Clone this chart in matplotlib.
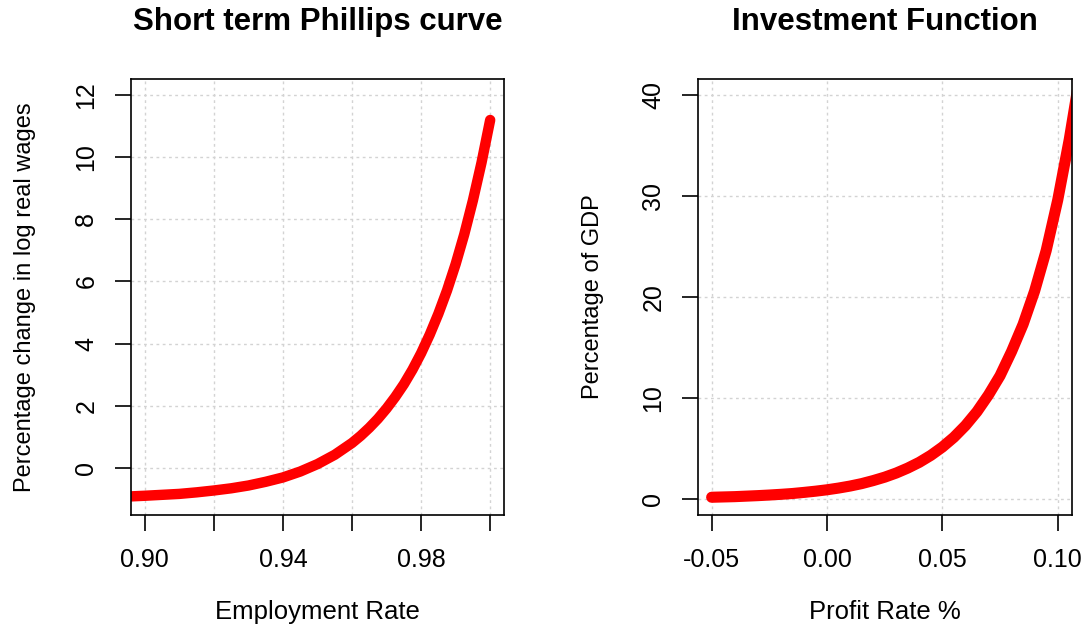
import matplotlib
matplotlib.use('Agg')
import matplotlib.pyplot as plt

plt.rcParams['font.family'] = ['Liberation Sans', 'DejaVu Sans']

# Short term Phillips curve
emp_rate = [0.896, 0.90, 0.905, 0.91, 0.915, 0.92, 0.925, 0.93, 0.935, 0.94,
            0.945, 0.95, 0.955, 0.96, 0.9625, 0.965, 0.9675, 0.97, 0.9725,
            0.975, 0.9775, 0.98, 0.9825, 0.985, 0.9875, 0.99, 0.9925, 0.995,
            0.9975, 1.00]
wage_chg = [-0.92, -0.90, -0.87, -0.84, -0.79, -0.73, -0.66, -0.57, -0.45, -0.31,
            -0.12, 0.12, 0.42, 0.80, 1.03, 1.29, 1.58, 1.91, 2.28,
            2.69, 3.16, 3.69, 4.29, 4.96, 5.71, 6.56, 7.52, 8.61,
            9.83, 11.2]

# Investment function
profit_rate = [-0.05, -0.045, -0.04, -0.035, -0.03, -0.025, -0.02, -0.015, -0.01,
               -0.005, 0.00, 0.005, 0.01, 0.015, 0.02, 0.025, 0.03, 0.035, 0.04,
               0.045, 0.05, 0.055, 0.06, 0.065, 0.07, 0.075, 0.08, 0.085, 0.09,
               0.095, 0.10, 0.105, 0.11]
invest_gdp = [0.16, 0.19, 0.22, 0.27, 0.32, 0.38, 0.45, 0.53, 0.64,
              0.76, 0.90, 1.07, 1.27, 1.51, 1.81, 2.15, 2.56, 3.05, 3.62,
              4.31, 5.13, 6.10, 7.26, 8.64, 10.3, 12.2, 14.6, 17.3, 20.6,
              24.6, 29.6, 35.6, 42.5]

emp_ticks = [0.90, 0.92, 0.94, 0.96, 0.98, 1.00]
emp_labels = ['0.90', '', '0.94', '', '0.98', '']
wage_ticks = [0, 2, 4, 6, 8, 10, 12]
profit_ticks = [-0.05, 0.00, 0.05, 0.10]
profit_labels = ['-0.05', '0.00', '0.05', '0.10']
invest_ticks = [0, 10, 20, 30, 40]

fig = plt.figure(figsize=(10.89, 6.32), dpi=100)
ax1 = fig.add_axes([0.1203, 0.1851, 0.3425, 0.6899])
ax2 = fig.add_axes([0.641, 0.1851, 0.3434, 0.6899])


def style(ax, title, xlabel, ylabel, ylab_x):
    ax.grid(True, color='#d3d3d3', linestyle=(0, (2, 2.5)), linewidth=1.0)
    ax.set_axisbelow(True)
    for s in ax.spines.values():
        s.set_linewidth(1.2)
    ax.tick_params(direction='out', length=11.5, width=1.2, labelsize=18)
    ax.tick_params(axis='x', pad=12)
    ax.tick_params(axis='y', pad=12)
    for lab in ax.get_yticklabels():
        lab.set_rotation(90)
        lab.set_va('center')
    ax.set_title(title, fontsize=22.5, fontweight='bold', pad=0, y=1.1307, va='center')
    ax.set_xlabel(xlabel, fontsize=18.5, va='center')
    ax.set_ylabel(ylabel, fontsize=17, va='center')
    ax.xaxis.set_label_coords(0.5, -0.2225)
    ax.yaxis.set_label_coords(ylab_x, 0.5)


ax1.plot(emp_rate, wage_chg, color='red', linewidth=7.5, solid_capstyle='round')
ax1.set_xlim(0.896, 1.004)
ax1.set_ylim(-1.52, 12.52)
ax1.set_xticks(emp_ticks)
ax1.set_xticklabels(emp_labels)
ax1.set_yticks(wage_ticks)
style(ax1, 'Short term Phillips curve', 'Employment Rate',
      'Percentage change in log real wages', -0.285)

ax2.plot(profit_rate, invest_gdp, color='red', linewidth=8, solid_capstyle='round')
ax2.set_xlim(-0.0559, 0.1062)
ax2.set_ylim(-1.6, 41.6)
ax2.set_xticks(profit_ticks)
ax2.set_xticklabels(profit_labels)
ax2.set_yticks(invest_ticks)
style(ax2, 'Investment Function', 'Profit Rate %', 'Percentage of GDP', -0.28)

fig.savefig('out.png', dpi=100)
